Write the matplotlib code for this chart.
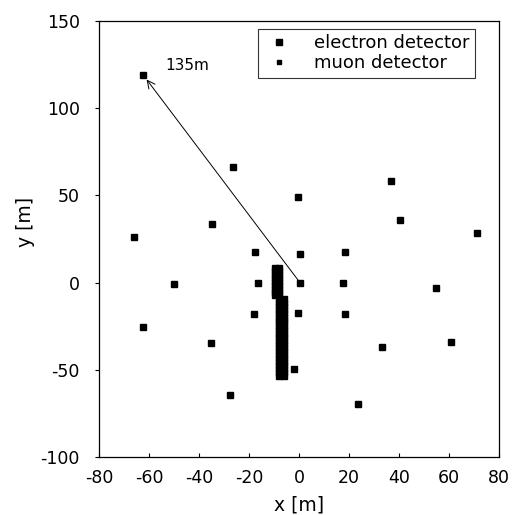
import matplotlib.pyplot as plt

plt.rcParams['font.family'] = ['DejaVu Sans']
plt.rcParams['axes.unicode_minus'] = False

# electron detector positions [m]
elec_x = [-62.4, -26.4, -0.4, 36.8, 40.4, 71.2, -66.0, -34.8, -17.6, 0.4,
          18.4, -50.0, -16.4, 0.4, 17.6, 54.8, -62.4, -18.0, -0.4, 18.4,
          -35.2, 33.2, 60.8, -2.0, -27.6, 23.6]
elec_y = [118.8, 66.4, 49.0, 58.0, 36.0, 28.6, 26.0, 33.8, 17.7, 16.6,
          17.7, -1.1, 0.0, 0.0, 0.0, -2.9, -25.7, -18.3, -17.7, -18.3,
          -34.9, -37.2, -34.3, -49.8, -64.6, -69.8]

# muon detector rows: upper block and lower block, two columns each
mu_upper_x = [-9.6, -8.0]
mu_upper_y = [8.5, 6.5, 4.5, 2.5, 0.5, -1.5, -3.5, -5.5, -7.0]
mu_lower_x = [-8.0, -6.0]
mu_lower_y = [-9.5, -11.5, -13.5, -15.5, -17.5, -19.5, -21.5, -23.5, -25.5,
              -27.5, -29.5, -31.5, -33.5, -35.5, -37.5, -39.5, -41.5, -43.5,
              -45.5, -47.5, -49.5, -51.5, -53.5]

mu_x = [x for x in mu_upper_x for _ in mu_upper_y] + [x for x in mu_lower_x for _ in mu_lower_y]
mu_y = mu_upper_y * len(mu_upper_x) + mu_lower_y * len(mu_lower_x)

# distance arrow from centre to the outer detector
arrow_start = (0.4, 0.0)
arrow_end = (-61.0, 116.5)
arrow_label = '135m'

fig = plt.figure(figsize=(5.14, 5.15), dpi=100)
ax = fig.add_axes([0.193, 0.113, 0.777, 0.846])

ax.plot(elec_x, elec_y, 's', color='black', markersize=4.2, linestyle='none',
        label='electron detector')
ax.plot(mu_x, mu_y, 's', color='black', markersize=3.8, linestyle='none',
        label='muon detector')

ax.annotate('', xy=arrow_end, xytext=arrow_start,
            arrowprops=dict(arrowstyle='->', color='black', lw=0.7,
                            mutation_scale=14, shrinkA=0, shrinkB=0))
ax.text(-53.6, 124.5, arrow_label, fontsize=11, va='center', ha='left')

ax.set_xlim(-80, 80)
ax.set_ylim(-100, 150)
ax.set_xticks(range(-80, 81, 20))
ax.set_yticks(range(-100, 151, 50))
ax.tick_params(axis='x', direction='in', length=3, pad=9, labelsize=12.5)
ax.tick_params(axis='y', direction='out', length=3, pad=11, labelsize=12.5)
for s in ax.spines.values():
    s.set_linewidth(0.9)

ax.set_xlabel('x [m]', fontsize=13.5, va='top')
ax.set_ylabel('y [m]', fontsize=13.5)
ax.xaxis.set_label_coords(0.5, -0.088)
ax.yaxis.set_label_coords(-0.16, 0.54)

leg = ax.legend(loc='upper right', bbox_to_anchor=(0.94, 0.982), fontsize=13,
                frameon=True, fancybox=False, edgecolor='black',
                handlelength=1.8, handletextpad=1.0, borderpad=0.3,
                labelspacing=0.1, borderaxespad=0)
leg.get_frame().set_linewidth(0.8)
leg.legend_handles[1].set_markersize(2.6)

fig.savefig('out.png', dpi=100)
